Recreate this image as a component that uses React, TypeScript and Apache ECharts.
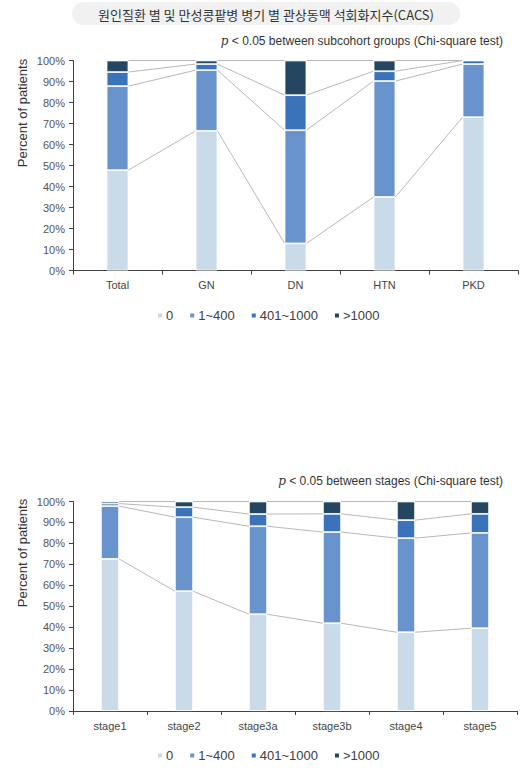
import React, { useEffect, useRef } from "react";
import * as echarts from "echarts";

const titleText = "원인질환 별 및 만성콩팥병 병기 별 관상동맥 석회화지수(CACS)";
const subtitleTop = " < 0.05 between subcohort groups (Chi-square test)";
const subtitleBottom = " < 0.05 between stages (Chi-square test)";
const yTitle = "Percent of patients";
const legendNames = ["0", "1~400", "401~1000", ">1000"];
const colors = ["#c9dae8", "#6893cc", "#3b73bb", "#254660"];

const categoriesA = ["Total", "GN", "DN", "HTN", "PKD"];
const zeroA = [47.8, 66.5, 12.9, 35.0, 73.0];
const lowA = [40.0, 28.9, 53.9, 55.2, 25.3];
const midA = [6.7, 2.9, 16.7, 4.7, 1.7];
const highA = [5.5, 1.7, 16.5, 5.1, 0];

const categoriesB = ["stage1", "stage2", "stage3a", "stage3b", "stage4", "stage5"];
const zeroB = [72.6, 57.2, 46.2, 41.9, 37.6, 39.5];
const lowB = [25.2, 35.3, 42.0, 43.5, 44.9, 45.5];
const midB = [1.2, 4.8, 5.8, 8.7, 8.6, 9.1];
const highB = [1.0, 2.7, 6.0, 5.9, 8.9, 5.9];

const yTicks = { min: 0, max: 100, interval: 10 };
const BAR_RATIO = 0.245;
const FONT = "'Liberation Sans', Arial, sans-serif";

function cumAt(groups: number[][], i: number) {
  let s = 0;
  return groups.map((g) => (s += g[i]));
}

function connectorData(groups: number[][]) {
  const n = groups[0].length;
  const out: number[][] = [];
  for (let i = 0; i < n - 1; i++) {
    out.push([i, ...cumAt(groups, i), ...cumAt(groups, i + 1)]);
  }
  return out;
}

function connectorSeries(idx: number, groups: number[][]) {
  const m = groups.length;
  return {
    type: "custom",
    xAxisIndex: idx,
    yAxisIndex: idx,
    silent: true,
    z: 1,
    encode: { x: 0, y: 1 },
    data: connectorData(groups),
    renderItem: (params: any, api: any) => {
      const i = api.value(0);
      const bw = api.size([1, 0])[0] * BAR_RATIO;
      const children: any[] = [];
      for (let k = 1; k <= m; k++) {
        const p1 = api.coord([i, api.value(k)]);
        const p2 = api.coord([i + 1, api.value(k + m)]);
        children.push({
          type: "line",
          shape: { x1: p1[0] + bw / 2, y1: p1[1], x2: p2[0] - bw / 2, y2: p2[1] },
          style: { stroke: "#b8b8b8", lineWidth: 1 },
        });
      }
      return { type: "group", children };
    },
  };
}

function barSeries(idx: number, groups: number[][]) {
  return groups.map((g, k) => ({
    name: legendNames[k],
    type: "bar",
    stack: "s" + idx,
    xAxisIndex: idx,
    yAxisIndex: idx,
    barWidth: BAR_RATIO * 100 + "%",
    z: 2,
    itemStyle: { color: colors[k], borderColor: "#ffffff", borderWidth: 0.8 },
    data: g,
  }));
}

function xAxis(idx: number, cats: string[]) {
  return {
    type: "category",
    gridIndex: idx,
    data: cats,
    axisLine: { lineStyle: { color: "#404040", width: 1 } },
    axisTick: { show: true, length: 4, lineStyle: { color: "#404040" } },
    axisLabel: { color: "#454545", fontSize: 11, margin: 9, fontFamily: FONT },
  };
}

function yAxis(idx: number) {
  return {
    type: "value",
    gridIndex: idx,
    min: yTicks.min,
    max: yTicks.max,
    interval: yTicks.interval,
    splitLine: { show: false },
    axisLine: { show: true, lineStyle: { color: "#404040", width: 1 } },
    axisTick: { show: true, length: 4, lineStyle: { color: "#404040" } },
    axisLabel: { formatter: "{value}%", color: "#555555", fontSize: 11, margin: 8, fontFamily: FONT },
  };
}

function legend(top: number) {
  return {
    data: legendNames,
    top,
    left: 151,
    icon: "rect",
    itemWidth: 6,
    itemHeight: 6,
    itemGap: 15,
    selectedMode: false,
    textStyle: { color: "#404040", fontSize: 13, fontFamily: FONT, padding: [0, 0, 0, -2] },
  };
}

function subtitle(rightX: number, y: number, text: string) {
  return {
    type: "text",
    x: rightX,
    y,
    style: {
      text: "{i|p}" + text,
      align: "right",
      verticalAlign: "middle",
      fill: "#333333",
      font: "12px " + FONT,
      rich: {
        i: { fontStyle: "italic", fontSize: 12, fontFamily: "'DejaVu Serif', serif", fill: "#333333" },
      },
    },
  };
}

function yTitleText(y: number) {
  return {
    type: "text",
    x: 22,
    y,
    rotation: Math.PI / 2,
    style: {
      text: yTitle,
      align: "center",
      verticalAlign: "middle",
      fill: "#333333",
      font: "13px " + FONT,
    },
  };
}

export default function App() {
  const ref = useRef<HTMLDivElement>(null);
  useEffect(() => {
    if (!ref.current) return;
    const chart = echarts.init(ref.current, undefined, { renderer: "svg" });
    const groupsA = [zeroA, lowA, midA, highA];
    const groupsB = [zeroB, lowB, midB, highB];
    chart.setOption({
      animation: false,
      backgroundColor: "#ffffff",
      grid: [
        { left: 73, top: 60.5, width: 445, height: 210 },
        { left: 73, top: 501.5, width: 444, height: 209.5 },
      ],
      xAxis: [xAxis(0, categoriesA), xAxis(1, categoriesB)],
      yAxis: [yAxis(0), yAxis(1)],
      legend: [legend(304), legend(744)],
      series: [
        ...barSeries(0, groupsA),
        connectorSeries(0, groupsA),
        ...barSeries(1, groupsB),
        connectorSeries(1, groupsB),
      ],
      graphic: [
        {
          type: "rect",
          shape: { x: 72, y: 2, width: 388, height: 23, r: 11.5 },
          style: { fill: "#f1f1f1" },
        },
        {
          type: "text",
          x: 266,
          y: 14,
          style: {
            text: titleText,
            align: "center",
            verticalAlign: "middle",
            fill: "#333333",
            font: "13px 'Noto Sans CJK KR', sans-serif",
          },
        },
        subtitle(503, 41, subtitleTop),
        subtitle(503, 481, subtitleBottom),
        yTitleText(113),
        yTitleText(553),
      ],
    });
    return () => chart.dispose();
  }, []);
  return (
    <div
      ref={ref}
      style={{ position: "absolute", left: 0, top: 0, width: 532, height: 770, background: "#fff" }}
    />
  );
}
